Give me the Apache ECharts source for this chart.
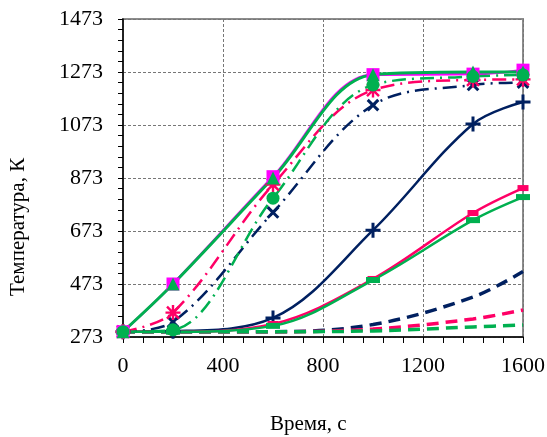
<!DOCTYPE html>
<html>
<head>
<meta charset="utf-8">
<script src="https://cdn.jsdelivr.net/npm/echarts@6/dist/echarts.min.js"></script>
<style>
  html, body { margin: 0; padding: 0; background: #fff; }
  #chart { width: 547px; height: 437px; }
</style>
</head>
<body>
<div id="chart"></div>
<script>
// время, с
let timeSec = [0, 200, 600, 1000, 1400, 1600];
let T0 = 273; // нижняя граница оси

// температуры, К
let magentaSq   = [293, 473, 878, 1263, 1265, 1280];
let greenTri    = [293, 473, 873, 1263, 1273, 1273];
let greenCirc   = [293, 300, 797, 1224, 1256, 1262];
let pinkStar    = [293, 365, 848, 1205, 1243, 1245];
let navyCross   = [293, 330, 743, 1148, 1224, 1233];
let navyPlus    = [293, 295, 345, 676, 1077, 1160];
let pinkSolid   = [293, 293, 322, 492, 741, 835];
let greenSolid  = [293, 293, 315, 488, 714, 801];
let navyDash    = [293, 293, 293, 320, 424, 520];
let pinkDash    = [293, 293, 293, 303, 341, 375];
let greenDash   = [293, 293, 293, 296, 311, 318];

let yTicks = [273, 473, 673, 873, 1073, 1273, 1473];

const NAVY = '#002060', PINK = '#ff0066', GREEN = '#00b050', MAGENTA = '#ff00ff';

const plusPath = 'path://M4,0H6V4H10V6H6V10H4V6H0V4H4Z';
const starPath = 'path://M0,4.2H10V5.8H0Z M4.2,0H5.8V10H4.2Z M1.57,0.43L9.57,8.43L8.43,9.57L0.43,1.57Z M8.43,0.43L9.57,1.57L1.57,9.57L0.43,8.43Z';

function pts(arr) {
    return arr.map((t, i) => [timeSec[i], t - T0]);
}

function line(name, data, color, opts) {
    let item = {
        name: name,
        type: 'line',
        data: pts(data),
        smooth: 0.35,
        color: color,
        lineStyle: { color: color, width: opts.width || 2.5, type: opts.dash || 'solid' },
        itemStyle: { color: color },
        symbol: opts.symbol || 'none',
        symbolSize: opts.size || 12,
        showSymbol: !!opts.symbol,
        symbolRotate: opts.rotate || 0
    };
    return item;
}

let series = [
    line('navyDash', navyDash, NAVY, { dash: [12, 7], width: 3.5 }),
    line('pinkDash', pinkDash, PINK, { dash: [12, 7], width: 3.5 }),
    line('greenDash', greenDash, GREEN, { dash: [12, 7], width: 3.5 }),
    line('navyPlus', navyPlus, NAVY, { symbol: plusPath, size: 15 }),
    line('pinkSolid', pinkSolid, PINK, { symbol: 'rect', size: [11, 6] }),
    line('greenSolid', greenSolid, GREEN, { symbol: 'rect', size: [14, 6] }),
    line('navyCross', navyCross, NAVY, { symbol: plusPath, size: 15, rotate: 45, dash: [14, 6, 2, 6] }),
    line('pinkStar', pinkStar, PINK, { symbol: starPath, size: 15, dash: [14, 6, 2, 6] }),
    line('magentaSq', magentaSq, MAGENTA, { symbol: 'rect', size: 13 }),
    line('greenCirc', greenCirc, GREEN, { symbol: 'circle', size: 13, dash: [14, 6, 2, 6] }),
    line('greenTri', greenTri, GREEN, { symbol: 'triangle', size: 13, width: 3 })
];

let myChart = echarts.init(document.getElementById('chart'));

let option = {
    animation: false,
    grid: {
        left: 123, right: 24, top: 19, bottom: 100,
        outerBoundsMode: 'none',
        show: true, borderColor: '#8c8c8c', borderWidth: 2
    },
    xAxis: {
        type: 'value',
        min: 0, max: 1600, interval: 400,
        axisLine: { lineStyle: { color: '#000', width: 1.5 } },
        axisTick: { show: true, length: 6, lineStyle: { color: '#000' } },
        minorTick: { show: true, splitNumber: 5, length: 6, lineStyle: { color: '#000' } },
        splitLine: { show: true, lineStyle: { color: '#777', type: [3, 2], width: 1 } },
        axisLabel: {
            margin: 18, color: '#000', fontFamily: 'Liberation Serif', fontSize: 22,
            showMaxLabel: true,
            formatter: v => String(v)
        }
    },
    yAxis: {
        type: 'value',
        min: 0, max: yTicks[yTicks.length - 1] - T0, interval: 200,
        axisLine: { show: true, lineStyle: { color: '#000', width: 1.5 } },
        axisTick: { show: true, length: 5, lineStyle: { color: '#000' } },
        minorTick: { show: true, splitNumber: 5, length: 5, lineStyle: { color: '#000' } },
        splitLine: { show: true, lineStyle: { color: '#777', type: [3, 2], width: 1 } },
        axisLabel: {
            margin: 20, color: '#000', fontFamily: 'Liberation Serif', fontSize: 22,
            formatter: v => String(v + T0)
        }
    },
    graphic: [
        {
            type: 'text', left: 270, top: 414,
            style: { text: 'Время, с', fill: '#000', font: '21px "Liberation Serif"' }
        },
        {
            type: 'text', x: 8, y: 296, rotation: Math.PI / 2,
            style: { text: 'Температура, К', fill: '#000', font: '21px "Liberation Serif"' }
        }
    ],
    series: series
};

myChart.setOption(option);
</script>
</body>
</html>
